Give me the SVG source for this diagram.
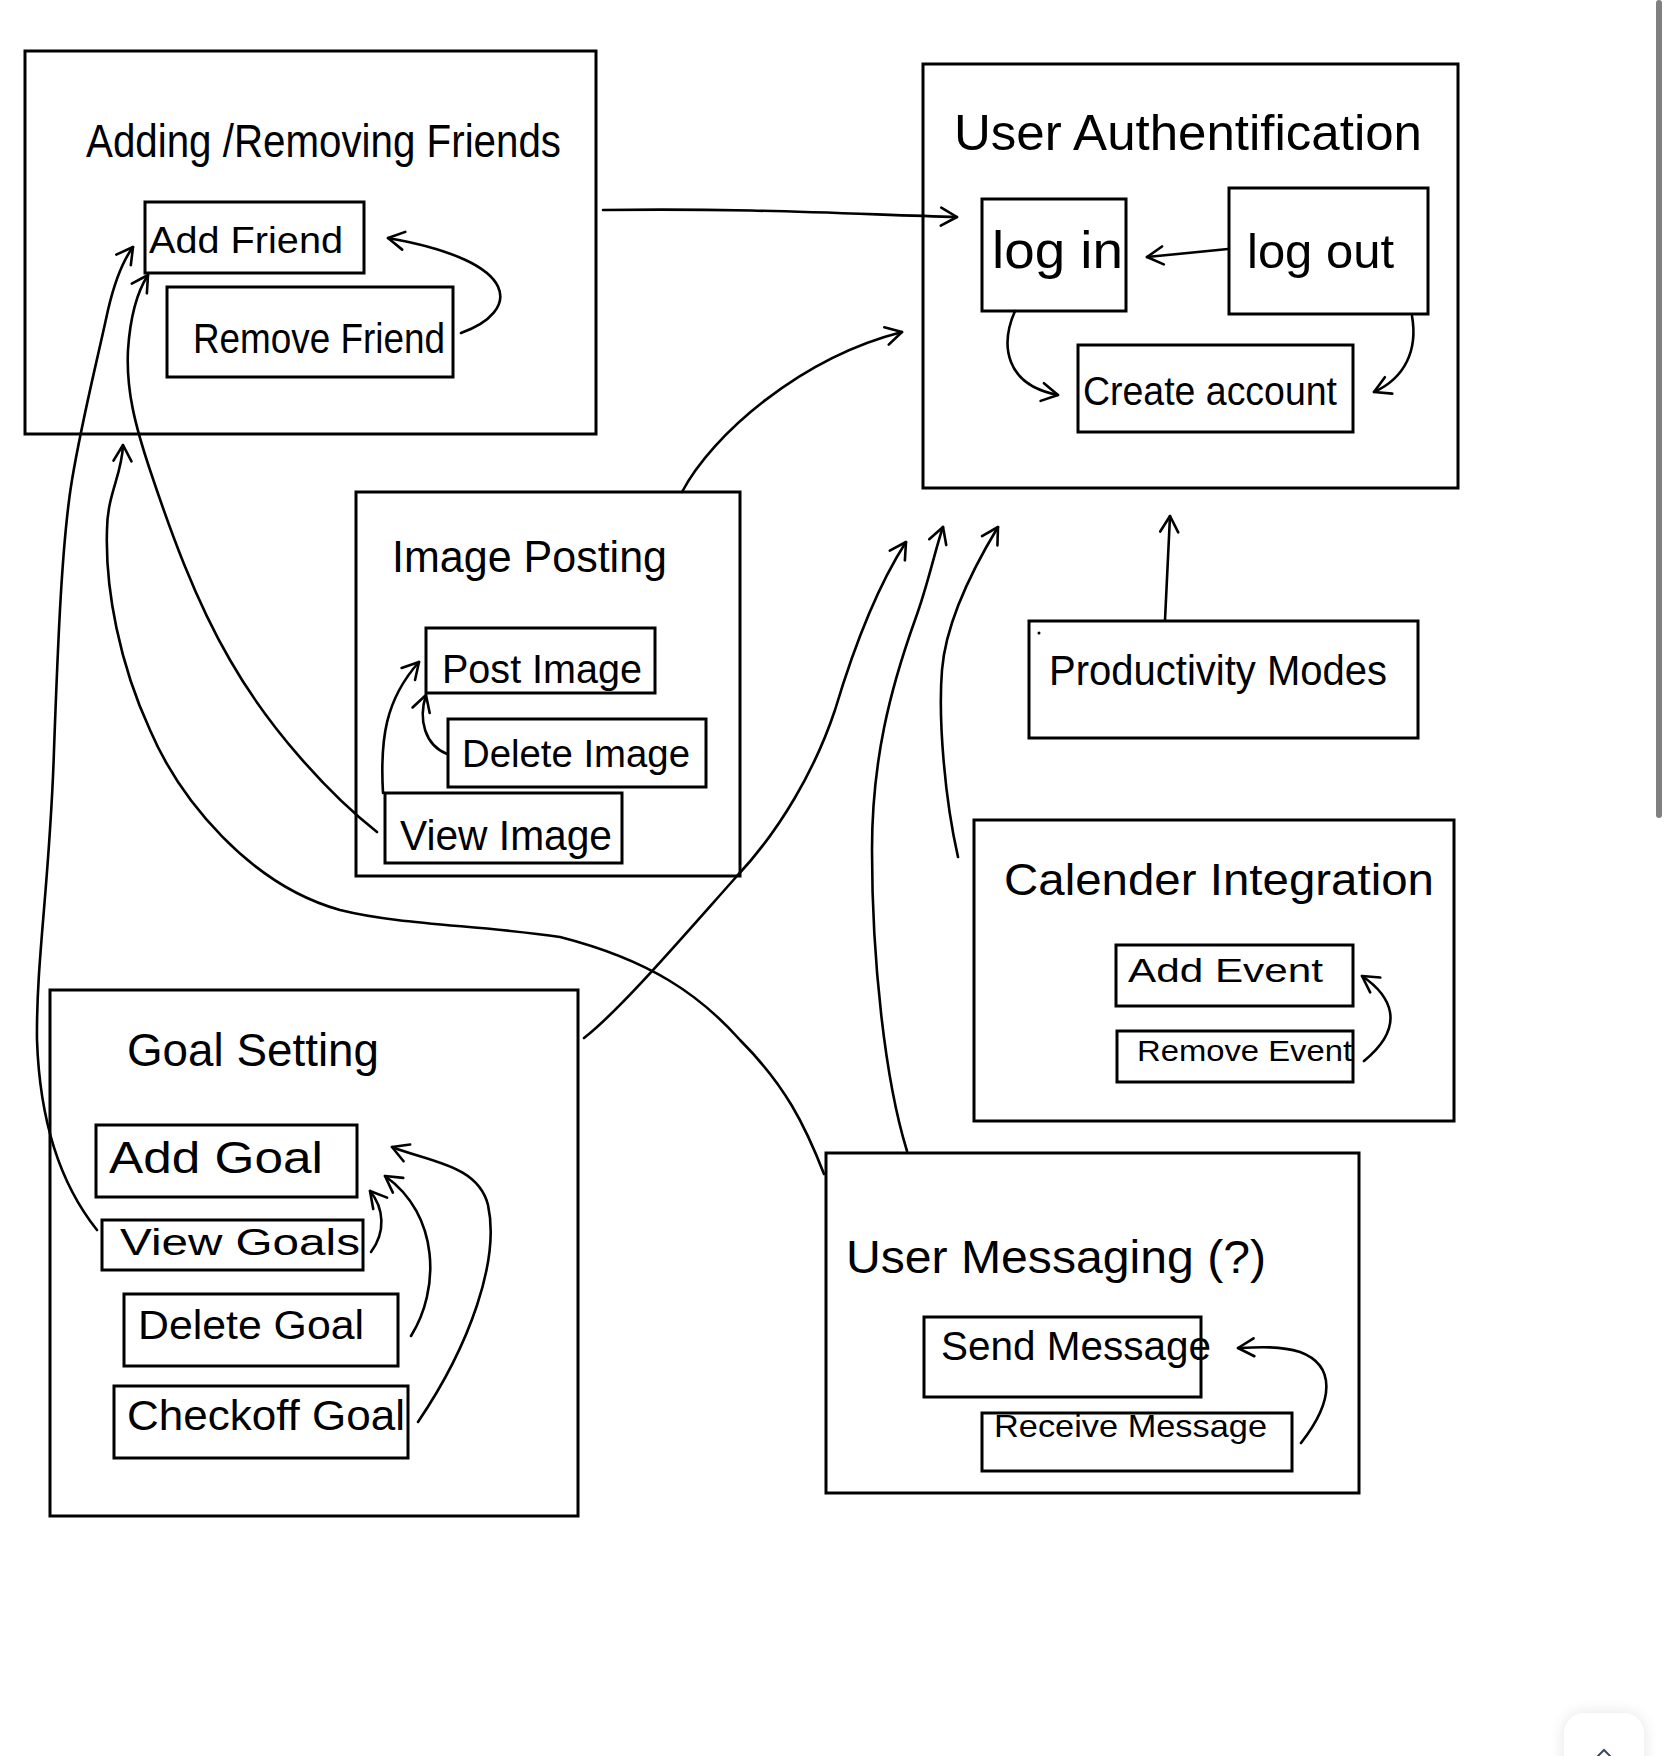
<svg xmlns="http://www.w3.org/2000/svg" width="1668" height="1756" viewBox="0 0 1668 1756">
<style>
.box{fill:none;stroke:#000;stroke-width:3}
.t{font-family:"Liberation Sans","DejaVu Sans",sans-serif;fill:#000}
.c{fill:none;stroke:#000;stroke-width:2.6;stroke-linecap:round;stroke-linejoin:round;marker-end:url(#ah)}
</style>
<defs>
<marker id="ah" viewBox="-20 -12 24 24" refX="0" refY="0" markerWidth="24" markerHeight="24" markerUnits="userSpaceOnUse" orient="auto">
<path d="M -16 -9 L 0 0 L -16 9" fill="none" stroke="#000" stroke-width="2.6" stroke-linecap="round" stroke-linejoin="round"/>
</marker>
<filter id="sh" x="-40%" y="-40%" width="180%" height="180%"><feGaussianBlur stdDeviation="8"/></filter>
</defs>
<rect width="1668" height="1756" fill="#fff"/>

<g id="friends"><rect class="box" x="25" y="51" width="571" height="383"/><text class="t" x="86" y="157" font-size="46" textLength="475" lengthAdjust="spacingAndGlyphs">Adding /Removing Friends</text></g>
<g id="add-friend"><rect class="box" x="145" y="202" width="219" height="71"/><text class="t" x="149" y="253" font-size="36" textLength="194" lengthAdjust="spacingAndGlyphs">Add Friend</text></g>
<g id="remove-friend"><rect class="box" x="167" y="287" width="286" height="90"/><text class="t" x="193" y="353" font-size="42" textLength="252" lengthAdjust="spacingAndGlyphs">Remove Friend</text></g>

<g id="auth"><rect class="box" x="923" y="64" width="535" height="424"/><text class="t" x="954" y="150" font-size="50" textLength="468" lengthAdjust="spacingAndGlyphs">User Authentification</text></g>
<g id="login"><rect class="box" x="982" y="199" width="144" height="112"/><text class="t" x="992" y="268" font-size="52" textLength="131" lengthAdjust="spacingAndGlyphs">log in</text></g>
<g id="logout"><rect class="box" x="1229" y="188" width="199" height="126"/><text class="t" x="1247" y="268" font-size="48" textLength="147" lengthAdjust="spacingAndGlyphs">log out</text></g>
<g id="create-account"><rect class="box" x="1078" y="345" width="275" height="87"/><text class="t" x="1083" y="405" font-size="40" textLength="254" lengthAdjust="spacingAndGlyphs">Create account</text></g>

<g id="image-posting"><rect class="box" x="356" y="492" width="384" height="384"/><text class="t" x="392" y="572" font-size="44" textLength="275" lengthAdjust="spacingAndGlyphs">Image Posting</text></g>
<g id="post-image"><rect class="box" x="426" y="628" width="229" height="65"/><text class="t" x="442" y="683" font-size="40" textLength="200" lengthAdjust="spacingAndGlyphs">Post Image</text></g>
<g id="delete-image"><rect class="box" x="448" y="719" width="258" height="68"/><text class="t" x="462" y="767" font-size="38" textLength="228" lengthAdjust="spacingAndGlyphs">Delete Image</text></g>
<g id="view-image"><rect class="box" x="385" y="793" width="237" height="70"/><text class="t" x="400" y="850" font-size="42" textLength="212" lengthAdjust="spacingAndGlyphs">View Image</text></g>

<g id="productivity"><rect class="box" x="1029" y="621" width="389" height="117"/><circle cx="1039" cy="633" r="1.5" fill="#000"/><text class="t" x="1049" y="685" font-size="42" textLength="338" lengthAdjust="spacingAndGlyphs">Productivity Modes</text></g>

<g id="calendar"><rect class="box" x="974" y="820" width="480" height="301"/><text class="t" x="1004" y="895" font-size="44" textLength="430" lengthAdjust="spacingAndGlyphs">Calender Integration</text></g>
<g id="add-event"><rect class="box" x="1116" y="945" width="237" height="61"/><text class="t" x="1128" y="982" font-size="34" textLength="195" lengthAdjust="spacingAndGlyphs">Add Event</text></g>
<g id="remove-event"><rect class="box" x="1117" y="1031" width="236" height="51"/><text class="t" x="1137" y="1061" font-size="30" textLength="215" lengthAdjust="spacingAndGlyphs">Remove Event</text></g>

<g id="goal-setting"><rect class="box" x="50" y="990" width="528" height="526"/><text class="t" x="127" y="1066" font-size="46" textLength="252" lengthAdjust="spacingAndGlyphs">Goal Setting</text></g>
<g id="add-goal"><rect class="box" x="96" y="1125" width="261" height="72"/><text class="t" x="109" y="1173" font-size="44" textLength="214" lengthAdjust="spacingAndGlyphs">Add Goal</text></g>
<g id="view-goals"><rect class="box" x="102" y="1220" width="261" height="50"/><text class="t" x="120" y="1255" font-size="36" textLength="240" lengthAdjust="spacingAndGlyphs">View Goals</text></g>
<g id="delete-goal"><rect class="box" x="124" y="1294" width="274" height="72"/><text class="t" x="138" y="1339" font-size="40" textLength="226" lengthAdjust="spacingAndGlyphs">Delete Goal</text></g>
<g id="checkoff-goal"><rect class="box" x="114" y="1386" width="294" height="72"/><text class="t" x="127" y="1430" font-size="42" textLength="278" lengthAdjust="spacingAndGlyphs">Checkoff Goal</text></g>

<g id="messaging"><rect class="box" x="826" y="1153" width="533" height="340"/><text class="t" x="846" y="1273" font-size="46" textLength="420" lengthAdjust="spacingAndGlyphs">User Messaging (?)</text></g>
<g id="send-message"><rect class="box" x="924" y="1317" width="277" height="80"/><text class="t" x="941" y="1360" font-size="40" textLength="270" lengthAdjust="spacingAndGlyphs">Send Message</text></g>
<g id="receive-message"><rect class="box" x="982" y="1413" width="310" height="58"/><text class="t" x="994" y="1437" font-size="32" textLength="273" lengthAdjust="spacingAndGlyphs">Receive Message</text></g>

<g id="connectors">
<path class="c" d="M 603 210 C 750 208, 850 214, 957 217"/>
<path class="c" d="M 461 333 C 520 312, 525 262, 388 238"/>
<path class="c" d="M 1228 249 L 1147 257"/>
<path class="c" d="M 1015 311 C 1000 345, 1005 385, 1058 395"/>
<path class="c" d="M 1412 316 C 1418 350, 1405 378, 1374 392"/>
<path class="c" d="M 682 492 C 712 435, 800 358, 902 332"/>
<path class="c" d="M 1165 620 L 1170 516"/>
<path class="c" d="M 97 1230 C 65 1190, 40 1130, 37 1040 C 36 960, 50 880, 54 750 C 58 640, 62 540, 72 480 C 82 420, 95 370, 108 310 C 115 280, 122 262, 133 247"/>
<path class="c" d="M 377 832 C 330 795, 270 730, 230 660 C 195 600, 170 530, 150 470 C 135 425, 126 390, 128 350 C 130 320, 137 292, 148 275"/>
<path class="c" d="M 824 1174 C 805 1125, 785 1085, 740 1040 C 700 995, 650 960, 560 937 C 480 925, 400 925, 340 910 C 250 885, 180 800, 150 730 C 120 665, 105 590, 107 530 C 107 495, 122 475, 123 445"/>
<path class="c" d="M 584 1038 C 620 1010, 680 940, 737 876 C 780 830, 815 770, 835 710 C 850 660, 875 590, 906 542"/>
<path class="c" d="M 907 1151 C 885 1080, 872 960, 872 850 C 872 760, 890 690, 915 620 C 928 585, 935 550, 943 527"/>
<path class="c" d="M 958 857 C 945 800, 938 720, 942 670 C 946 620, 975 565, 998 527"/>
<path class="c" d="M 383 793 C 380 740, 385 700, 419 662"/>
<path class="c" d="M 447 754 C 425 745, 418 720, 426 695"/>
<path class="c" d="M 1364 1061 C 1408 1025, 1390 995, 1362 976"/>
<path class="c" d="M 371 1252 C 386 1232, 384 1208, 370 1191"/>
<path class="c" d="M 411 1336 C 440 1290, 440 1215, 385 1176"/>
<path class="c" d="M 418 1422 C 470 1345, 500 1260, 488 1205 C 478 1165, 430 1162, 392 1147"/>
<path class="c" d="M 1301 1443 C 1335 1400, 1335 1365, 1300 1352 C 1280 1346, 1260 1347, 1238 1348"/>
</g>

<rect x="1656" y="0" width="6" height="818" rx="3" fill="#808080"/>
<rect x="1564" y="1713" width="80" height="70" rx="20" fill="#000" opacity="0.10" filter="url(#sh)"/>
<rect x="1564" y="1713" width="80" height="70" rx="20" fill="#fff"/>
<path d="M 1597 1757 L 1604 1750 L 1611 1757" fill="none" stroke="#3c4a5c" stroke-width="2"/>
</svg>
